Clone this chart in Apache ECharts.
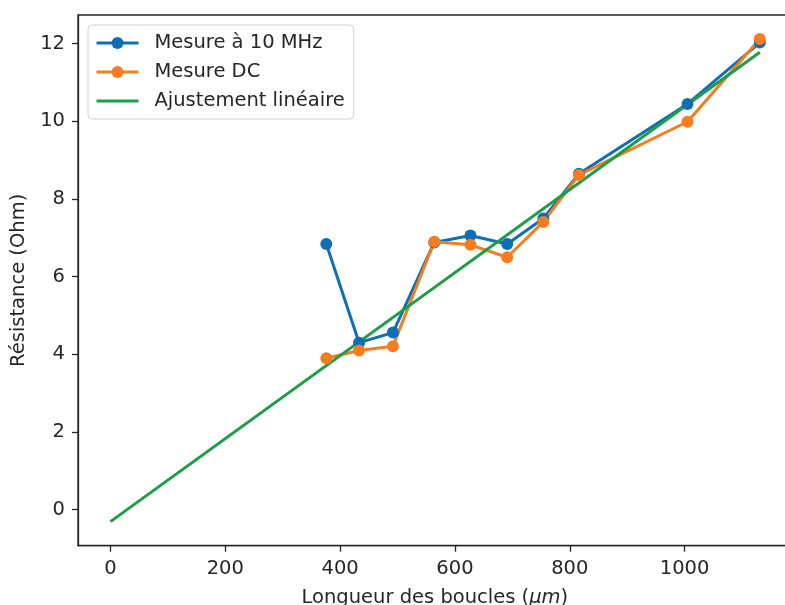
<!DOCTYPE html>
<html>
<head>
<meta charset="utf-8">
<script src="https://cdn.jsdelivr.net/npm/echarts@6/dist/echarts.min.js"></script>
<style>
  html, body { margin: 0; padding: 0; background: #ffffff; }
  #chart { width: 785px; height: 605px; }
</style>
</head>
<body>
<div id="chart"></div>
<script>
// Data
const lengths = [376, 433, 492, 564, 627, 691, 754, 816, 1005, 1131];
const r10MHz = [6.84, 4.30, 4.56, 6.88, 7.06, 6.84, 7.50, 8.65, 10.45, 12.03];
const rDC = [3.90, 4.10, 4.21, 6.90, 6.82, 6.50, 7.41, 8.62, 9.99, 12.12];
const fitX = [0, 1131];
const fitY = [-0.31, 11.78];
const xTicks = [0, 200, 400, 600, 800, 1000];
const yTicks = [0, 2, 4, 6, 8, 10, 12];
const seriesNames = ['Mesure à 10 MHz', 'Mesure DC', 'Ajustement linéaire'];

const pair = (xs, ys) => xs.map((x, i) => [x, ys[i]]);

const FONT = 'DejaVu Sans';
const INK = '#262626';
const BLUE = '#0f6fb5', ORANGE = '#f57d20', GREEN = '#1c9e48';

const chart = echarts.init(document.getElementById('chart'), null, { renderer: 'canvas' });
chart.setOption({
  animation: false,
  backgroundColor: '#ffffff',
  textStyle: { fontFamily: FONT },
  grid: {
    left: 78, top: 15, width: 713.7, height: 530.7,
    outerBoundsMode: 'none', containLabel: false,
    show: true, borderColor: INK, borderWidth: 1.3, backgroundColor: 'transparent'
  },
  legend: {
    orient: 'vertical',
    left: 88, top: 25,
    padding: [8, 9, 8, 7],
    itemWidth: 42, itemHeight: 15, itemGap: 9,
    backgroundColor: 'rgba(255,255,255,0.85)',
    borderColor: '#d0d0d0', borderWidth: 1, borderRadius: 4,
    lineStyle: { width: 3 },
    textStyle: { fontFamily: FONT, fontSize: 19.5, color: INK, lineHeight: 20, padding: [0, 0, 0, 11] },
    data: [
      { name: seriesNames[0] },
      { name: seriesNames[1] },
      { name: seriesNames[2], itemStyle: { opacity: 0 } }
    ]
  },
  xAxis: {
    type: 'value',
    min: -56.5, max: 1186.5,
    name: 'Longueur des boucles ({i|μm})',
    nameLocation: 'middle',
    nameGap: 42,
    nameTextStyle: { fontFamily: FONT, fontSize: 19.5, color: INK,
      rich: { i: { fontFamily: FONT, fontSize: 19.5, fontStyle: 'italic', color: INK } } },
    axisLine: { show: true, onZero: false, lineStyle: { color: INK, width: 1.3 } },
    axisTick: { show: true, customValues: xTicks, length: 6, lineStyle: { color: INK, width: 1.3 } },
    axisLabel: { customValues: xTicks, margin: 13, fontFamily: FONT, fontSize: 19.5, color: INK,
      formatter: v => String(v) },
    splitLine: { show: false }
  },
  yAxis: {
    type: 'value',
    min: -0.93, max: 12.74,
    name: 'Résistance (Ohm)',
    nameLocation: 'middle',
    nameRotate: 90,
    nameGap: 40,
    nameTextStyle: { fontFamily: FONT, fontSize: 19.5, color: INK },
    axisLine: { show: true, onZero: false, lineStyle: { color: INK, width: 1.3 } },
    axisTick: { show: true, customValues: yTicks, length: 6, lineStyle: { color: INK, width: 1.3 } },
    axisLabel: { customValues: yTicks, margin: 13, fontFamily: FONT, fontSize: 19.5, color: INK,
      formatter: v => String(v) },
    splitLine: { show: false }
  },
  series: [
    {
      name: seriesNames[0], type: 'line', data: pair(lengths, r10MHz),
      symbol: 'circle', symbolSize: 12, showAllSymbol: true,
      itemStyle: { color: BLUE },
      lineStyle: { color: BLUE, width: 3 }
    },
    {
      name: seriesNames[1], type: 'line', data: pair(lengths, rDC),
      symbol: 'circle', symbolSize: 12, showAllSymbol: true,
      itemStyle: { color: ORANGE },
      lineStyle: { color: ORANGE, width: 3 }
    },
    {
      name: seriesNames[2], type: 'line', data: pair(fitX, fitY),
      symbol: 'none',
      itemStyle: { color: GREEN },
      lineStyle: { color: GREEN, width: 3 }
    }
  ]
});
</script>
</body>
</html>
